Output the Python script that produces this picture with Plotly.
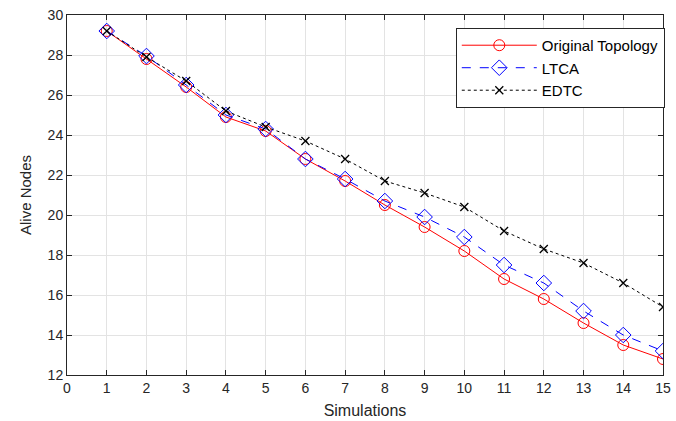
import plotly.graph_objects as go

simulations = list(range(1, 16))
original_topology = [29.2, 27.8, 26.4, 24.9, 24.2, 22.8, 21.7, 20.5, 19.4, 18.2, 16.8, 15.8, 14.6, 13.5, 12.8]
ltca = [29.2, 27.95, 26.5, 25.0, 24.3, 22.8, 21.8, 20.7, 19.9, 18.9, 17.5, 16.6, 15.2, 14.0, 13.2]
edtc = [29.2, 27.9, 26.7, 25.2, 24.4, 23.7, 22.8, 21.7, 21.1, 20.4, 19.2, 18.3, 17.6, 16.6, 15.4]

x_ticks = list(range(0, 16))
y_ticks = list(range(12, 31, 2))

font = "Liberation Sans, Arial, sans-serif"

fig = go.Figure()
fig.add_trace(go.Scatter(
    x=simulations, y=original_topology, name="Original Topology", mode="lines+markers",
    line=dict(color="#ff0000", width=1),
    marker=dict(symbol="circle-open", size=11, color="#ff0000", line=dict(width=1)),
))
fig.add_trace(go.Scatter(
    x=simulations, y=ltca, name="LTCA", mode="lines+markers",
    line=dict(color="#0000ff", width=1, dash="dash"),
    marker=dict(symbol="diamond-open", size=12, color="#0000ff", line=dict(width=1)),
))
fig.add_trace(go.Scatter(
    x=simulations, y=edtc, name="EDTC", mode="lines+markers",
    line=dict(color="#000000", width=1, dash="dot"),
    marker=dict(symbol="x-thin-open", size=8, color="#000000", line=dict(width=1.3, color="#000000")),
))

axis_common = dict(
    showgrid=True, gridcolor="#e3e3e3", gridwidth=1,
    showline=True, linecolor="#262626", linewidth=1, mirror="allticks",
    ticks="inside", ticklen=5, tickcolor="#262626",
    tickfont=dict(family=font, size=14, color="#262626"),
    zeroline=False, automargin=False,
)

fig.update_layout(
    width=676, height=421,
    margin=dict(l=67, r=11, t=15, b=46),
    paper_bgcolor="white", plot_bgcolor="white",
    font=dict(family=font, color="#262626"),
    xaxis=dict(range=[0, 15], tickvals=x_ticks,
               title=dict(text="Simulations", font=dict(family=font, size=16, color="#262626"), standoff=10),
               **axis_common),
    yaxis=dict(range=[12, 30], tickvals=y_ticks,
               title=dict(text="Alive Nodes", font=dict(family=font, size=15, color="#262626"), standoff=12),
               **axis_common),
    legend=dict(
        x=1.003, y=0.964, xanchor="right", yanchor="top",
        bgcolor="white", bordercolor="#262626", borderwidth=1,
        font=dict(family=font, size=15, color="#000000"),
        tracegroupgap=0, itemwidth=75,
    ),
    showlegend=True,
)

fig.write_html("out.html", post_script="document.body.style.margin='0';",
               config={"displayModeBar": False})
